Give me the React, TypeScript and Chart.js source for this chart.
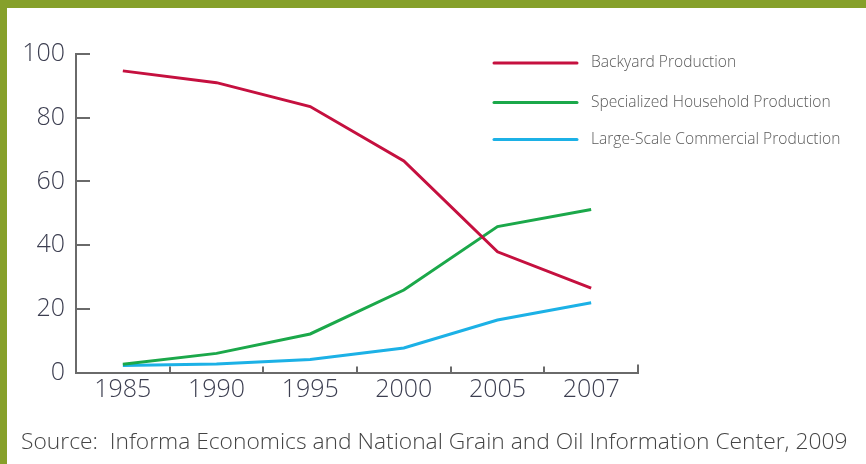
import React, { useEffect, useRef } from "react";
import { Chart, registerables } from "chart.js";

Chart.register(...registerables);

const categories = ["1985", "1990", "1995", "2000", "2005", "2007"];
const backyard = [94.7, 91.0, 83.5, 66.4, 37.9, 26.5];
const specialized = [2.6, 6.0, 12.1, 25.9, 45.8, 51.2];
const largeScale = [2.2, 2.7, 4.1, 7.7, 16.5, 21.9];
const seriesNames = [
  "Backyard Production",
  "Specialized Household Production",
  "Large-Scale Commercial Production",
];
const seriesColors = ["#c5103f", "#1ba84a", "#1cb1e6"];
const yTicks = [0, 20, 40, 60, 80, 100];
const sourceText = "Source:  Informa Economics and National Grain and Oil Information Center, 2009";

const FONT = "'Open Sans', 'Liberation Sans', sans-serif";
const AXIS_COLOR = "#6a6a6a";

const tickMarks = {
  id: "tickMarks",
  afterDraw(chart: any) {
    const { ctx, chartArea, scales } = chart;
    const x = scales.x;
    const y = scales.y;
    ctx.save();
    ctx.strokeStyle = AXIS_COLOR;
    ctx.lineWidth = 2;
    ctx.beginPath();
    yTicks.forEach((v) => {
      const py = Math.round(y.getPixelForValue(v));
      ctx.moveTo(chartArea.left, py);
      ctx.lineTo(chartArea.left + 14, py);
    });
    for (let i = 0; i < categories.length; i++) {
      const px = Math.round(x.getPixelForValue(i + 0.5));
      const len = i === categories.length - 1 ? 8 : 6;
      ctx.moveTo(px, chartArea.bottom);
      ctx.lineTo(px, chartArea.bottom - len);
    }
    ctx.stroke();
    ctx.restore();
  },
};

const customLegend = {
  id: "customLegend",
  afterDraw(chart: any) {
    const { ctx } = chart;
    const ys = [63, 102.5, 139.5];
    ctx.save();
    chart.data.datasets.forEach((ds: any, i: number) => {
      ctx.strokeStyle = ds.borderColor;
      ctx.lineWidth = 3;
      ctx.lineCap = "round";
      ctx.beginPath();
      ctx.moveTo(494, ys[i]);
      ctx.lineTo(577, ys[i]);
      ctx.stroke();
      ctx.fillStyle = "#5a5a5a";
      ctx.font = `300 15.6px ${FONT}`;
      ctx.textBaseline = "middle";
      ctx.textAlign = "left";
      ctx.fillText(ds.label, 591, ys[i]);
    });
    ctx.restore();
  },
};

export default function App() {
  const canvasRef = useRef<HTMLCanvasElement | null>(null);

  useEffect(() => {
    if (!canvasRef.current) return;
    const mk = (label: string, data: number[], color: string) => ({
      label,
      data,
      borderColor: color,
      backgroundColor: color,
      borderWidth: 3,
      pointRadius: 0,
      tension: 0,
      fill: false,
    });
    const chart = new Chart(canvasRef.current, {
      type: "line",
      data: {
        labels: categories,
        datasets: [
          mk(seriesNames[0], backyard, seriesColors[0]),
          mk(seriesNames[1], specialized, seriesColors[1]),
          mk(seriesNames[2], largeScale, seriesColors[2]),
        ],
      },
      options: {
        animation: false,
        responsive: false,
        maintainAspectRatio: false,
        layout: { padding: { left: 0, top: 54, right: 228, bottom: 51.5 } },
        plugins: {
          legend: { display: false },
          tooltip: { enabled: false },
          title: { display: false },
        },
        scales: {
          x: {
            type: "category",
            offset: true,
            grid: { display: false, drawTicks: false, offset: true },
            border: { display: true, color: AXIS_COLOR, width: 2 },
            ticks: {
              color: "#3c3e50",
              font: { family: FONT, size: 25, weight: "300" as any },
              padding: 2,
              maxRotation: 0,
              autoSkip: false,
            },
            afterFit: (s: any) => {
              s.height = 40;
            },
          },
          y: {
            min: 0,
            max: 100,
            grid: { display: false, drawTicks: false },
            border: { display: true, color: AXIS_COLOR, width: 2 },
            ticks: {
              stepSize: 20,
              color: "#3c3e50",
              font: { family: FONT, size: 25, weight: "300" as any },
              padding: 11,
            },
            afterFit: (s: any) => {
              s.width = 76;
            },
          },
        },
      },
      plugins: [tickMarks, customLegend],
    });
    return () => chart.destroy();
  }, []);

  return (
    <div
      style={{
        position: "absolute",
        left: 0,
        top: 0,
        width: 866,
        height: 464,
        background: "#ffffff",
        overflow: "hidden",
      }}
    >
      <canvas
        ref={canvasRef}
        width={866}
        height={464}
        style={{ position: "absolute", left: 0, top: 0, width: 866, height: 464 }}
      />
      <div
        style={{
          position: "absolute",
          left: 21,
          top: 427,
          fontFamily: FONT,
          fontWeight: 300,
          fontSize: 22.8,
          lineHeight: "28px",
          color: "#444444",
          whiteSpace: "pre",
        }}
      >
        {sourceText}
      </div>
      <div style={{ position: "absolute", left: 0, top: 0, width: 866, height: 8, background: "#86a02a" }} />
      <div style={{ position: "absolute", left: 0, top: 0, width: 7, height: 464, background: "#86a02a" }} />
    </div>
  );
}
